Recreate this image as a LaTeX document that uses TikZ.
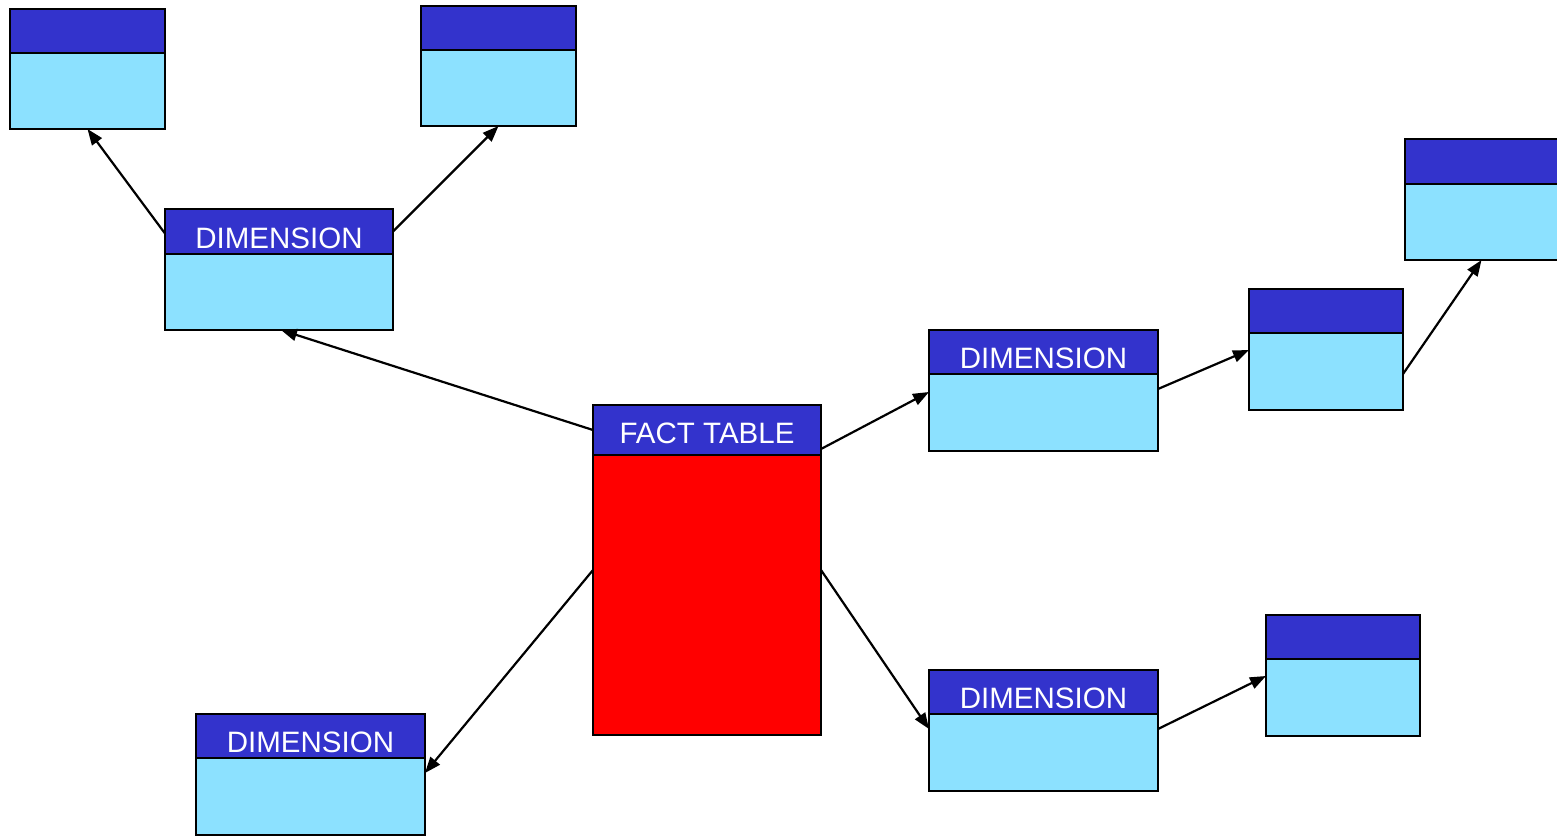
\documentclass[tikz,border=0pt]{standalone}
\usepackage{fontspec}
\setmainfont{Liberation Sans}
\usetikzlibrary{arrows.meta}
\definecolor{hdrblue}{HTML}{3333CC}
\definecolor{bodycyan}{HTML}{8CE1FF}
\definecolor{factred}{HTML}{FF0000}
\tikzset{
  boxline/.style={draw=black, line width=1.4pt, inner sep=0pt, outer sep=0pt},
  hdr/.style={boxline, fill=hdrblue, anchor=north west},
  bdy/.style={boxline, fill=bodycyan, anchor=north west},
  ttl/.style={anchor=base, text=white, font=\fontsize{29.5}{31}\selectfont, inner sep=0pt},
  link/.style={line width=2.2pt, -{Triangle[length=16pt,width=12pt]}},
}
% #1 name, #2 x, #3 y, #4 width, #5 header height, #6 body height, #7 fill, #8 title, #9 baseline lift
\newcommand\dbtable[9]{%
  \node[hdr, minimum width=#4pt, minimum height=#5pt] (#1-h) at (#2,#3) {};
  \node[bdy, fill=#7, minimum width=#4pt, minimum height=#6pt] (#1) at (#1-h.south west) {};
  \node[ttl] (#1-t) at ([yshift=#9pt]#1-h.south) {#8};
}
\begin{document}
\begin{tikzpicture}[x=1pt,y=-1pt]
\useasboundingbox (0,0) rectangle (1557,835);
% tables
\dbtable{sa}{10}{9}{155}{44}{76}{bodycyan}{}{6}
\dbtable{sb}{421}{6}{155}{44}{76}{bodycyan}{}{6}
\dbtable{dima}{165}{209}{228}{45}{76}{bodycyan}{DIMENSION}{6}
\dbtable{fact}{593}{405}{228}{50}{280}{factred}{FACT TABLE}{12}
\dbtable{dimb}{929}{330}{229}{44}{77}{bodycyan}{DIMENSION}{6}
\dbtable{sc}{1249}{289}{154}{44}{77}{bodycyan}{}{6}
\dbtable{sd}{1405}{139}{155}{45}{76}{bodycyan}{}{6}
\dbtable{dimc}{929}{670}{229}{44}{77}{bodycyan}{DIMENSION}{6}
\dbtable{se}{1266}{615}{154}{44}{77}{bodycyan}{}{6}
\dbtable{dimd}{196}{714}{229}{44}{77}{bodycyan}{DIMENSION}{6}
% connectors
\draw[link] (fact-h.west) -- ([xshift=2pt]dima.south);
\draw[link] ([yshift=-2pt]dima-h.west) -- (sa.south);
\draw[link] (dima-h.east) -- (sb.south);
\draw[link] ([yshift=6pt]fact-h.south east) -- ([yshift=-18pt]dimb.north west);
\draw[link] ([yshift=-15pt]dimb.north east) -- ([yshift=-17pt]sc.north west);
\draw[link] ([yshift=-41pt]sc.north east) -- ([xshift=-1pt]sd.south);
\draw[link] ([yshift=-115pt]fact.north east) -- ([yshift=-15pt]dimc.north west);
\draw[link] ([yshift=-15pt]dimc.north east) -- ([yshift=-17pt]se.north west);
\draw[link] ([yshift=-115pt]fact.north west) -- ([yshift=-15pt]dimd.north east);
\end{tikzpicture}
\end{document}
